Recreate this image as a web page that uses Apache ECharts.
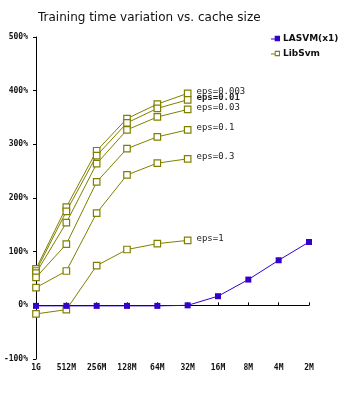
<!DOCTYPE html>
<html><head><meta charset="utf-8">
<script src="https://cdn.jsdelivr.net/npm/echarts@6/dist/echarts.min.js"></script>
<style>html,body{margin:0;padding:0;background:#fff}#c{width:355px;height:395px}</style>
</head><body><div id="c"></div>
<script>
var categories = ['1G','512M','256M','128M','64M','32M','16M','8M','4M','2M'];
var yTicks = [-100,0,100,200,300,400,500];
var lasvm = [-1,-1,-1,-1,-1,0,17,48,84,118];
var eps0003 = [68,183,288,348,375,395];
var eps001  = [64,175,279,340,367,383];
var eps003  = [60,154,264,327,351,365];
var eps01   = [52,114,230,292,314,327];
var eps03   = [33,64,172,243,265,273];
var eps1    = [-16,-8,74,104,115,121];
var epsNames = ['eps=0.003','eps=0.01','eps=0.03','eps=0.1','eps=0.3','eps=1'];
var epsData = [eps0003,eps001,eps003,eps01,eps03,eps1];

var olive = '#808000', blue = '#3300cc';
var series = [{
  name:'LASVM(x1)', type:'line', data:lasvm,
  symbol:'rect', symbolSize:6,
  lineStyle:{color:blue,width:1}, itemStyle:{color:blue},
  emphasis:{disabled:true}, z:5
}];
epsData.forEach(function(arr,i){
  var d = arr.map(function(v,j){
    if(j===arr.length-1){
      return {value:v,label:{show:true,position:'right',distance:5,offset:[0,-2],
        formatter:epsNames[i],fontFamily:'DejaVu Sans Mono',fontSize:9,
        fontWeight:(i===1?'bold':'normal'),color:'#222'}};
    }
    return v;
  });
  series.push({
    name:'LibSvm', type:'line', data:d,
    symbol:'rect', symbolSize:6.5,
    lineStyle:{color:olive,width:1},
    itemStyle:{color:'#fff',borderColor:olive,borderWidth:1.2},
    emphasis:{disabled:true}
  });
});

var iconFilled = 'path://M0,3L3.5,3L3.5,0.5L8.5,0.5L8.5,5.5L3.5,5.5L3.5,4L0,4Z';
var iconHollow = 'path://M0,3L3.5,3L3.5,4L0,4Z M3.5,0.5L8.5,0.5L8.5,5.5L3.5,5.5Z M4.5,1.5L4.5,4.5L7.5,4.5L7.5,1.5Z';

var chart = echarts.init(document.getElementById('c'),null,{renderer:'canvas'});
chart.setOption({
  animation:false,
  backgroundColor:'#fff',
  title:{text:'Training time variation vs. cache size',left:33,top:7,
    textStyle:{fontFamily:'DejaVu Sans',fontSize:12,fontWeight:'normal',color:'#111'}},
  legend:{orient:'vertical',left:266,top:29,itemGap:6,itemWidth:9,itemHeight:6,
    data:[{name:'LASVM(x1)',icon:iconFilled,itemStyle:{color:blue,borderWidth:0}},
          {name:'LibSvm',icon:iconHollow,itemStyle:{color:olive,borderWidth:0}}],
    textStyle:{fontFamily:'DejaVu Sans',fontSize:9,fontWeight:'bold',color:'#111',padding:[0,0,0,-2]}},
  grid:{left:36,right:46,top:37,bottom:36,containLabel:false},
  xAxis:{type:'category',data:categories,boundaryGap:false,
    axisLine:{lineStyle:{color:'#000',width:1}},
    axisTick:{inside:true,length:3,lineStyle:{color:'#000'}},
    axisLabel:{fontFamily:'DejaVu Sans Mono',fontSize:8,fontWeight:'bold',color:'#111',margin:5,interval:0},
    splitLine:{show:false}},
  yAxis:{type:'value',min:yTicks[0],max:yTicks[yTicks.length-1],interval:100,
    axisLine:{show:true,lineStyle:{color:'#000',width:1}},
    axisTick:{show:true,length:3,lineStyle:{color:'#000'}},
    axisLabel:{formatter:'{value}%',fontFamily:'DejaVu Sans Mono',fontSize:8,fontWeight:'bold',color:'#111',margin:8},
    splitLine:{show:false}},
  series:series
});
</script></body></html>
